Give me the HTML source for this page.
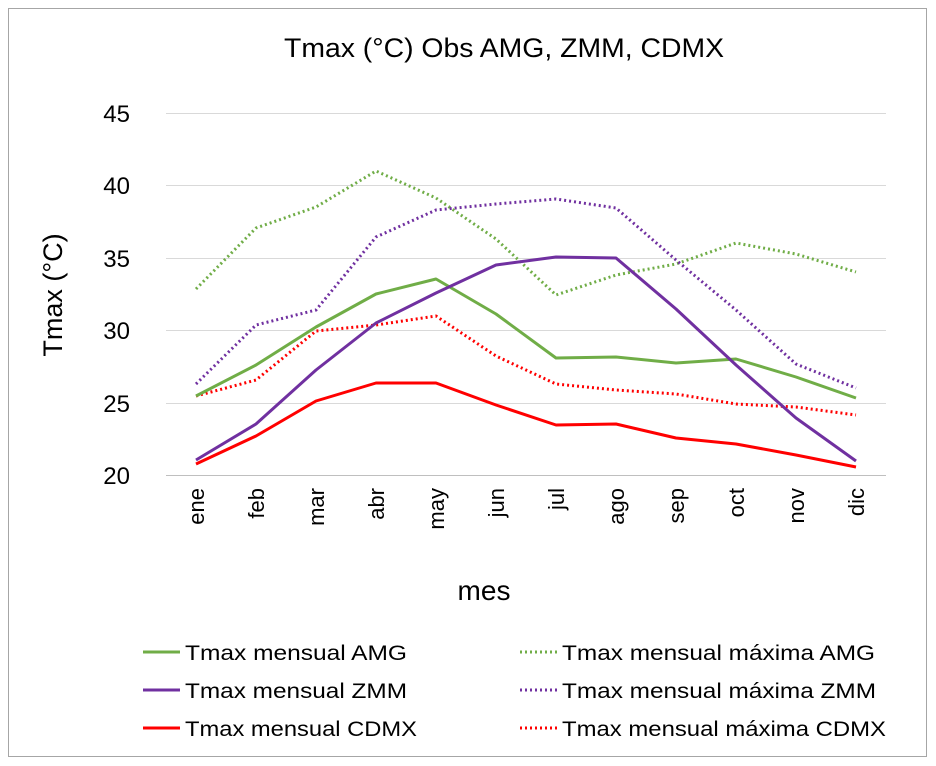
<!DOCTYPE html>
<html><head><meta charset="utf-8"><style>
html,body{margin:0;padding:0;background:#fff;}
svg{display:block;font-family:"Liberation Sans",sans-serif;}
</style></head><body>
<svg width="936" height="766" viewBox="0 0 936 766">
<rect x="0" y="0" width="936" height="766" fill="#fff"/>
<rect x="8.5" y="8.5" width="918" height="748" fill="#fff" stroke="#a6a6a6" stroke-width="1"/>
<text x="284" y="57" font-size="27" fill="#000" textLength="440" lengthAdjust="spacingAndGlyphs">Tmax (°C) Obs AMG, ZMM, CDMX</text>
<g stroke="#d9d9d9" stroke-width="1">
<line x1="166" y1="113.5" x2="886" y2="113.5"/>
<line x1="166" y1="185.5" x2="886" y2="185.5"/>
<line x1="166" y1="258.5" x2="886" y2="258.5"/>
<line x1="166" y1="330.5" x2="886" y2="330.5"/>
<line x1="166" y1="403.5" x2="886" y2="403.5"/>
</g>
<line x1="166" y1="475.5" x2="886" y2="475.5" stroke="#bfbfbf"/>
<g font-size="24" text-anchor="end" fill="#000">
<text x="130" y="122">45</text><text x="130" y="194">40</text><text x="130" y="267">35</text>
<text x="130" y="339">30</text><text x="130" y="412">25</text><text x="130" y="484">20</text>
</g>
<text transform="translate(62,295) rotate(-90)" font-size="27" text-anchor="middle">Tmax (°C)</text>
<g font-size="22" fill="#000" text-anchor="end">
<text transform="translate(204,488) rotate(-90)">ene</text>
<text transform="translate(264,488) rotate(-90)">feb</text>
<text transform="translate(324,488) rotate(-90)">mar</text>
<text transform="translate(384,488) rotate(-90)">abr</text>
<text transform="translate(444,488) rotate(-90)">may</text>
<text transform="translate(504,488) rotate(-90)">jun</text>
<text transform="translate(564,488) rotate(-90)">jul</text>
<text transform="translate(624,488) rotate(-90)">ago</text>
<text transform="translate(684,488) rotate(-90)">sep</text>
<text transform="translate(744,488) rotate(-90)">oct</text>
<text transform="translate(804,488) rotate(-90)">nov</text>
<text transform="translate(864,488) rotate(-90)">dic</text>
</g>
<text x="484" y="600" font-size="28" text-anchor="middle">mes</text>
<g fill="none" stroke-width="3" stroke-linejoin="round">
<polyline stroke="#70ad47" stroke-dasharray="2,3" points="196,289 256,228 316,207 376,171 436,198 496,239 556,295 616,275 676,264 736,243 796,254 856,272"/>
<polyline stroke="#7030a0" stroke-dasharray="2,3" points="196,384 256,325 316,310 376,237 436,210 496,204 556,199 616,208 676,260 736,310 796,364 856,388"/>
<polyline stroke="#ff0000" stroke-dasharray="2,3" points="196,396 256,380 316,331 376,325 436,316 496,356 556,384 616,390 676,394 736,404 796,407 856,415"/>
<polyline stroke="#70ad47" points="196,396 256,365 316,327 376,294 436,279 496,314 556,358 616,357 676,363 736,359 796,377 856,398"/>
<polyline stroke="#7030a0" points="196,460 256,424 316,370 376,323 436,293 496,265 556,257 616,258 676,309 736,365 796,418 856,461"/>
<polyline stroke="#ff0000" points="196,464 256,436 316,401 376,383 436,383 496,405 556,425 616,424 676,438 736,444 796,455 856,467"/>
</g>
<g stroke-width="3">
<line x1="143" y1="652" x2="180" y2="652" stroke="#70ad47"/>
<line x1="143" y1="690" x2="180" y2="690" stroke="#7030a0"/>
<line x1="143" y1="728" x2="180" y2="728" stroke="#ff0000"/>
<line x1="520" y1="652" x2="557" y2="652" stroke="#70ad47" stroke-dasharray="2,3"/>
<line x1="520" y1="690" x2="557" y2="690" stroke="#7030a0" stroke-dasharray="2,3"/>
<line x1="520" y1="728" x2="557" y2="728" stroke="#ff0000" stroke-dasharray="2,3"/>
</g>
<g font-size="21" fill="#000">
<text x="185" y="660" textLength="222" lengthAdjust="spacingAndGlyphs">Tmax mensual AMG</text>
<text x="185" y="698" textLength="222" lengthAdjust="spacingAndGlyphs">Tmax mensual ZMM</text>
<text x="185" y="736" textLength="232" lengthAdjust="spacingAndGlyphs">Tmax mensual CDMX</text>
<text x="562" y="660" textLength="313" lengthAdjust="spacingAndGlyphs">Tmax mensual máxima AMG</text>
<text x="562" y="698" textLength="314" lengthAdjust="spacingAndGlyphs">Tmax mensual máxima ZMM</text>
<text x="562" y="736" textLength="324" lengthAdjust="spacingAndGlyphs">Tmax mensual máxima CDMX</text>
</g>
</svg>
</body></html>
